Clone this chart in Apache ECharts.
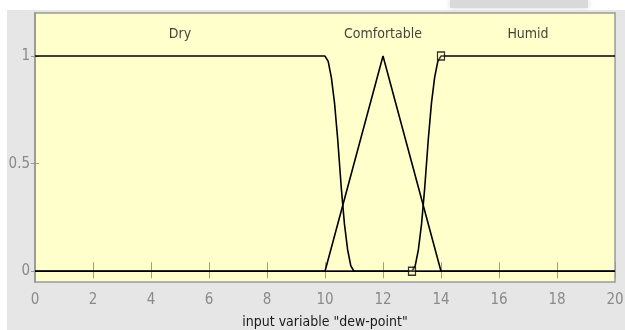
<!DOCTYPE html>
<html>
<head>
<meta charset="utf-8">
<script src="https://cdn.jsdelivr.net/npm/echarts@6/dist/echarts.min.js"></script>
<style>
  html, body { margin: 0; padding: 0; background: #ffffff; }
  #chart { width: 625px; height: 330px; }
</style>
</head>
<body>
<div id="chart"></div>
<script>
// Membership functions of the input variable "dew-point"
var xTicks = [0, 2, 4, 6, 8, 10, 12, 14, 16, 18, 20];
var yTicks = [0, 0.5, 1];

var mfNames = ['Dry', 'Comfortable', 'Humid'];
var mfLabelX = [5, 12, 17];

// Dry: flat at 1, curved drop from 10 to 11
var dryX = [0, 10, 10.11, 10.22, 10.33, 10.44, 10.56, 10.67, 10.78, 10.89, 11, 20];
var dryY = [1, 1, 0.975, 0.90, 0.78, 0.61, 0.39, 0.22, 0.10, 0.025, 0, 0];

// Comfortable: triangle 10 - 12 - 14
var comfX = [0, 10, 12, 14, 20];
var comfY = [0, 0, 1, 0, 0];

// Humid: curved rise from 13 to 14, flat at 1
var humidX = [0, 13, 13.11, 13.22, 13.33, 13.44, 13.56, 13.67, 13.78, 13.89, 14, 20];
var humidY = [0, 0, 0.025, 0.10, 0.22, 0.39, 0.61, 0.78, 0.90, 0.975, 1, 1];

// Parameter handles of the selected function
var handleX = [13, 14];
var handleY = [0, 1];

function pairs(xs, ys) {
  return xs.map(function (x, i) { return [x, ys[i]]; });
}

var font = "'Liberation Sans Narrow', 'DejaVu Sans Condensed', 'Liberation Sans', sans-serif";
var axisGrey = '#9a9a9a';

var chart = echarts.init(document.getElementById('chart'), null, { renderer: 'canvas' });

var lineStyle = { color: '#000000', width: 1.6 };

chart.setOption({
  backgroundColor: '#ffffff',
  animation: false,
  graphic: [
    { type: 'rect', z: -10, shape: { x: 7, y: 10, width: 618, height: 320 }, style: { fill: '#e6e6e6' } },
    { type: 'rect', z: -10, shape: { x: 450, y: 0, width: 138, height: 8 },
      style: { fill: '#d9d9d9', shadowBlur: 6, shadowColor: '#d9d9d9' } }
  ],
  grid: {
    left: 35, right: 10, top: 13, bottom: 48,
    containLabel: false, outerBoundsMode: 'none',
    show: true, backgroundColor: '#ffffcc', borderColor: axisGrey, borderWidth: 1.5
  },
  xAxis: [
    {
      type: 'value', min: 0, max: 20, interval: 2, position: 'bottom',
      name: 'input variable "dew-point"', nameLocation: 'middle', nameGap: 33,
      nameTextStyle: { color: '#1a1a1a', fontFamily: font, fontSize: 14 },
      axisLine: { show: true, lineStyle: { color: axisGrey, width: 1.5 } },
      axisTick: { show: true, inside: true, length: 9, lineStyle: { color: axisGrey } },
      axisLabel: {
        color: '#8a8a8a', fontFamily: font, fontSize: 15, margin: 11,
        customValues: xTicks
      },
      splitLine: { show: false }
    },
    {
      type: 'value', min: 0, max: 20, interval: 2, position: 'top',
      axisLine: { show: true, lineStyle: { color: axisGrey, width: 1.5 } },
      axisTick: { show: true, inside: true, length: 7, lineStyle: { color: axisGrey } },
      axisLabel: { show: false },
      splitLine: { show: false }
    }
  ],
  yAxis: [
    {
      type: 'value', min: -0.05, max: 1.2, position: 'left',
      axisLine: { show: true, lineStyle: { color: axisGrey, width: 1.5 } },
      axisTick: { show: true, inside: true, length: 4, lineStyle: { color: axisGrey }, customValues: yTicks },
      axisLabel: {
        color: '#8a8a8a', fontFamily: font, fontSize: 15, margin: 5,
        customValues: yTicks
      },
      splitLine: { show: false }
    },
    {
      type: 'value', min: -0.05, max: 1.2, position: 'right',
      axisLine: { show: true, lineStyle: { color: axisGrey, width: 1.5 } },
      axisTick: { show: true, inside: true, length: 4, lineStyle: { color: axisGrey }, customValues: yTicks },
      axisLabel: { show: false },
      splitLine: { show: false }
    }
  ],
  series: [
    { type: 'line', name: 'Dry', data: pairs(dryX, dryY), symbol: 'none', lineStyle: lineStyle, z: 3 },
    { type: 'line', name: 'Comfortable', data: pairs(comfX, comfY), symbol: 'none', lineStyle: lineStyle, z: 3 },
    { type: 'line', name: 'Humid', data: pairs(humidX, humidY), symbol: 'none', lineStyle: lineStyle, z: 3 },
    {
      type: 'scatter', name: 'handles', data: pairs(handleX, handleY),
      symbol: 'rect', symbolSize: [7, 8], z: 5,
      itemStyle: { color: 'rgba(255,255,204,0.3)', borderColor: '#000000', borderWidth: 1.3 }
    },
    {
      type: 'scatter', name: 'mf labels',
      data: mfLabelX.map(function (x, i) { return { value: [x, 1.1], name: mfNames[i] }; }),
      symbolSize: 0, z: 6,
      label: {
        show: true, position: 'inside', formatter: '{b}',
        color: '#111111', fontFamily: font, fontSize: 14
      }
    }
  ]
});
</script>
</body>
</html>
